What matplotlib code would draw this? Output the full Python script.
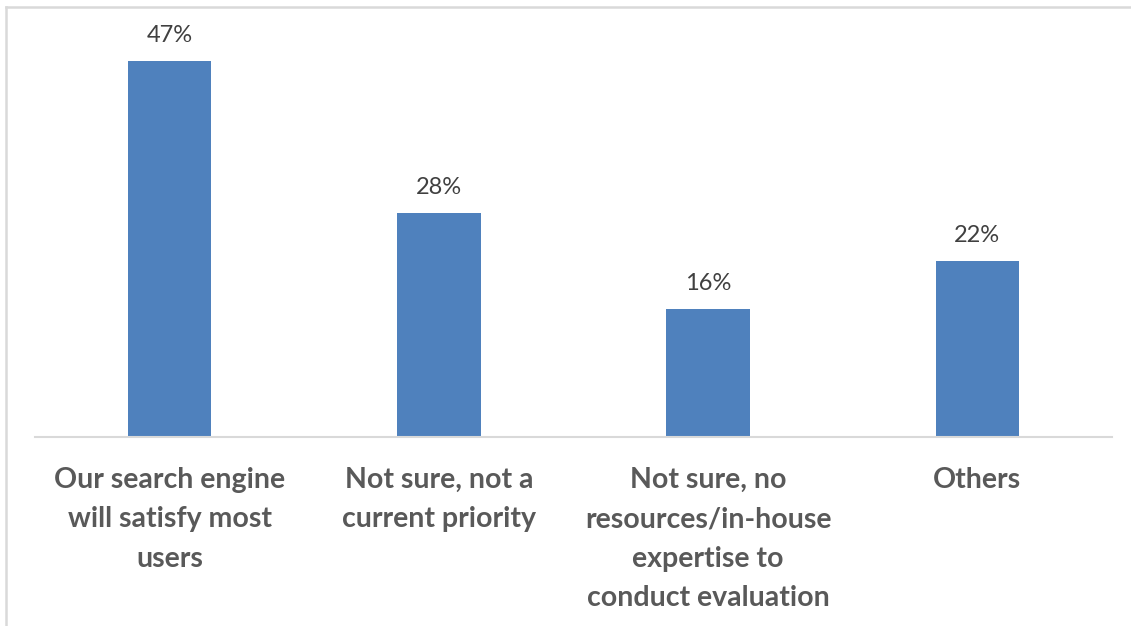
import matplotlib.pyplot as plt
from matplotlib.lines import Line2D

categories = [
    "Our search engine\nwill satisfy most\nusers",
    "Not sure, not a\ncurrent priority",
    "Not sure, no\nresources/in-house\nexpertise to\nconduct evaluation",
    "Others",
]
shares = [47, 28, 16, 22]

W, H = 1131, 626
fig = plt.figure(figsize=(W / 100, H / 100), dpi=100)
ax = fig.add_axes([35 / W, 1 - 437 / H, (1112 - 35) / W, 400 / H])

x = range(len(shares))
bars = ax.bar(x, shares, width=0.31, color="#4F81BD", zorder=2)

for b, v in zip(bars, shares):
    ax.annotate(f"{v}%", (b.get_x() + b.get_width() / 2, v),
                xytext=(0, 11), textcoords="offset points",
                ha="center", va="bottom", fontsize=17, family="Lato",
                color="#404040")

ax.set_xlim(-0.5, len(shares) - 0.5)
ax.set_ylim(0, 50)
ax.set_yticks([])
ax.set_xticks(list(x))
ax.set_xticklabels(categories, fontsize=20.5, family="Lato", fontweight="bold",
                   color="#595959", linespacing=1.64)
ax.tick_params(axis="x", length=0, pad=21.5)

for side in ("top", "right", "left"):
    ax.spines[side].set_visible(False)
ax.spines["bottom"].set_color("#d9d9d9")
ax.spines["bottom"].set_linewidth(1.5)

# outer frame (left and top edges)
fig.add_artist(Line2D([6 / W, 6 / W], [0, 1 - 7 / H], color="#d9d9d9", lw=1.8))
fig.add_artist(Line2D([6 / W, 1], [1 - 7 / H, 1 - 7 / H], color="#d9d9d9", lw=1.8))

fig.savefig("out.png", dpi=100)
